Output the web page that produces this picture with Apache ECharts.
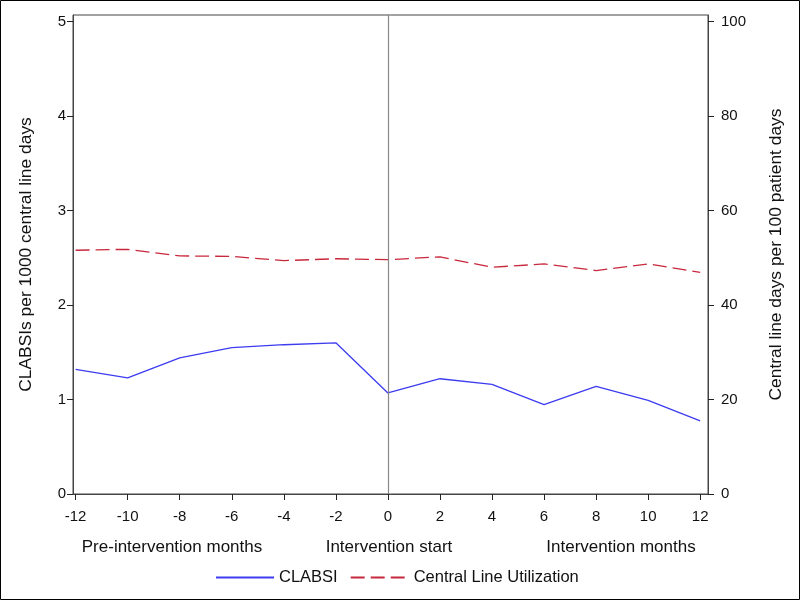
<!DOCTYPE html>
<html><head><meta charset="utf-8">
<script src="https://cdn.jsdelivr.net/npm/echarts@6/dist/echarts.min.js"></script>
<style>html,body{margin:0;padding:0;background:#fff}#c{width:800px;height:600px}</style>
</head><body><div id="c"></div>
<script>
const months = [-12,-10,-8,-6,-4,-2,0,2,4,6,8,10,12];
const clabsi = [1.32,1.23,1.44,1.55,1.58,1.60,1.07,1.22,1.16,0.945,1.14,0.99,0.775];
const utilization = [51.6,51.8,50.4,50.3,49.4,49.8,49.6,50.2,48.0,48.7,47.3,48.7,46.9];
const xTicks = [-12,-10,-8,-6,-4,-2,0,2,4,6,8,10,12];
const leftTicks = [0,1,2,3,4,5];
const rightTicks = [0,20,40,60,80,100];
const periodLabels = ['Pre-intervention months','Intervention start','Intervention months'];

const chart = echarts.init(document.getElementById('c'), null, {renderer:'canvas'});
const font = 'Liberation Sans, Arial, sans-serif';
const axisColor = '#444';
chart.setOption({
  animation:false,
  textStyle:{fontFamily:font},
  grid:{left:73,right:92,top:15,bottom:106,show:true,borderColor:axisColor,borderWidth:1,containLabel:false},
  xAxis:{type:'value',min:-12.1,max:12.3,
    axisLine:{show:true,onZero:false,lineStyle:{color:axisColor}},
    axisTick:{show:true,length:6,customValues:xTicks,lineStyle:{color:'#222'}},
    axisLabel:{customValues:xTicks,color:'#111',fontSize:15,margin:15,fontFamily:font},
    splitLine:{show:false}},
  yAxis:[
    {type:'value',min:0,max:5.07,position:'left',
      name:'CLABSIs per 1000 central line days',nameLocation:'middle',nameGap:38,nameRotate:90,
      nameTextStyle:{fontSize:17.4,color:'#111',fontFamily:font},
      axisLine:{show:true,onZero:false,lineStyle:{color:axisColor}},
      axisTick:{show:true,length:6,customValues:leftTicks,lineStyle:{color:'#222'}},
      axisLabel:{customValues:leftTicks,color:'#111',fontSize:15,margin:7,fontFamily:font},
      splitLine:{show:false}},
    {type:'value',min:0,max:101.4,position:'right',
      name:'Central line days per 100 patient days',nameLocation:'middle',nameGap:60,nameRotate:90,
      nameTextStyle:{fontSize:17.4,color:'#111',fontFamily:font},
      axisLine:{show:true,onZero:false,lineStyle:{color:axisColor}},
      axisTick:{show:true,length:6,customValues:rightTicks,lineStyle:{color:'#222'}},
      axisLabel:{customValues:rightTicks,color:'#111',fontSize:15,margin:13,fontFamily:font},
      splitLine:{show:false}}
  ],
  legend:{bottom:9,left:210,itemWidth:58,itemHeight:10,itemGap:12,
    textStyle:{fontSize:16.5,color:'#111',fontFamily:font},
    data:[{name:'CLABSI',itemStyle:{opacity:0}},{name:'Central Line Utilization',itemStyle:{opacity:0}}]},
  series:[
    {name:'CLABSI',type:'line',yAxisIndex:0,showSymbol:false,symbol:'none',
      lineStyle:{color:'#3c3cf0',width:1.3},itemStyle:{color:'#3c3cf0'},
      data:months.map((m,i)=>[m,clabsi[i]]),
      markLine:{silent:true,symbol:'none',label:{show:false},
        lineStyle:{color:'#888',type:'solid',width:1.2},data:[{xAxis:0}]}},
    {name:'Central Line Utilization',type:'line',yAxisIndex:1,showSymbol:false,symbol:'none',
      lineStyle:{color:'#c8283c',width:1.3,type:[14,6]},itemStyle:{color:'#c8283c'},
      data:months.map((m,i)=>[m,utilization[i]])}
  ],
  graphic:[
    {type:'rect',shape:{x:0.5,y:0.5,width:799,height:599},style:{fill:'none',stroke:'#000',lineWidth:1},silent:true},
    {type:'text',x:172,y:547,style:{text:periodLabels[0],font:'17px '+font,fill:'#111',textAlign:'center',textVerticalAlign:'middle'}},
    {type:'text',x:389,y:547,style:{text:periodLabels[1],font:'17px '+font,fill:'#111',textAlign:'center',textVerticalAlign:'middle'}},
    {type:'text',x:621,y:547,style:{text:periodLabels[2],font:'17px '+font,fill:'#111',textAlign:'center',textVerticalAlign:'middle'}}
  ]
});
</script></body></html>
